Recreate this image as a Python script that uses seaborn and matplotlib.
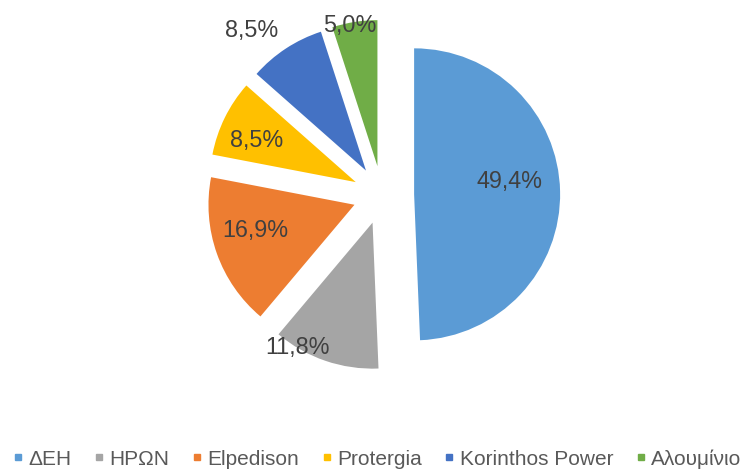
import matplotlib
matplotlib.use("Agg")
import numpy as np
import matplotlib.pyplot as plt
import seaborn as sns
from matplotlib.lines import Line2D

# ---------- data ----------
labels = ["ΔΕΗ", "ΗΡΩΝ", "Elpedison", "Protergia", "Korinthos Power", "Αλουμίνιο"]
shares = [49.4, 11.8, 16.9, 8.5, 8.5, 5.0]
colors = ["#5B9BD5", "#A5A5A5", "#ED7D31", "#FFC000", "#4472C4", "#70AD47"]
explode = [0.22, 0.2, 0.2, 0.2, 0.2, 0.2]

# label placement like excel "best fit": fraction of radius, angle shift (deg)
lab_r = [0.66, 1.0, 0.70, 0.74, 1.24, 0.98]
lab_shift = [6.6, -12.0, -5.0, 3.4, 5.8, 2.1]

# ---------- style ----------
sns.set_style("white")
plt.rcParams["font.family"] = ["Liberation Sans", "DejaVu Sans"]

W, H = 747, 473
R = 146            # pie radius in px
cx, cy = 382, 195  # pie centre in px (from top-left)

fig = plt.figure(figsize=(W / 100, H / 100), dpi=100)
ax = fig.add_axes([0, 0, 1, 1])

wedges, _ = ax.pie(
    shares,
    colors=colors,
    startangle=90,
    counterclock=False,
    explode=explode,
    radius=1,
    wedgeprops=dict(linewidth=0),
)
ax.set_aspect("auto")
ax.set_xlim(-cx / R, (W - cx) / R)
ax.set_ylim(-(H - cy) / R, cy / R)
ax.axis("off")

# percentage labels
for w, r, s, v in zip(wedges, lab_r, lab_shift, shares):
    ang = np.deg2rad((w.theta1 + w.theta2) / 2 + s)
    x = w.center[0] + r * w.r * np.cos(ang)
    y = w.center[1] + r * w.r * np.sin(ang)
    ax.text(x, y, f"{v:.1f}%".replace(".", ","), ha="center", va="center",
            fontsize=16.8, color="#404040")

# legend
handles = [Line2D([], [], marker="s", ls="", color=c, markersize=4.5) for c in colors]
fig.legend(handles, labels, loc="center", bbox_to_anchor=(0.506, 1 - 459 / H),
           ncol=6, frameon=False, fontsize=15, handletextpad=0.33,
           columnspacing=1.14, handlelength=0.35, labelcolor="#595959",
           borderpad=0, borderaxespad=0)

fig.savefig("out.png", dpi=100)
